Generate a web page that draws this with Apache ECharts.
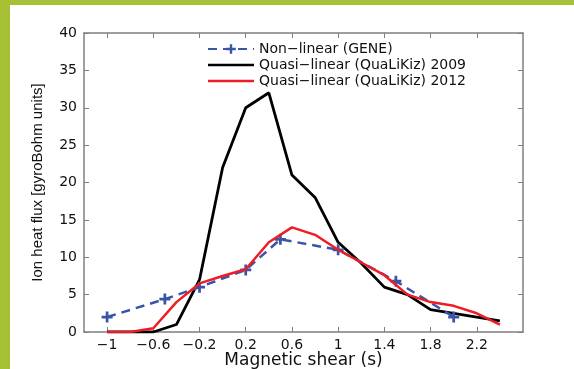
<!DOCTYPE html>
<html>
<head>
<meta charset="utf-8">
<script src="https://cdn.jsdelivr.net/npm/echarts@6/dist/echarts.min.js"></script>
<style>
html,body{margin:0;padding:0;background:#fff;}
#wrap{position:absolute;left:0;top:0;width:574px;height:369px;background:#fff;}
#barL{position:absolute;left:0;top:0;width:10px;height:369px;background:#a7c136;}
#barT{position:absolute;left:0;top:0;width:574px;height:5px;background:#a7c136;}
#chart{position:absolute;left:0;top:0;width:574px;height:369px;}
</style>
</head>
<body>
<div id="wrap"><div id="chart"></div><div id="barL"></div><div id="barT"></div></div>
<script>
// Data
const geneX = [-1, -0.5, -0.2, 0.2, 0.5, 1.0, 1.5, 2.0];
const geneY = [2, 4.4, 6, 8.3, 12.4, 11, 6.8, 2];
const qlkX = [-1, -0.8, -0.6, -0.4, -0.2, 0.0, 0.2, 0.4, 0.6, 0.8, 1.0, 1.2, 1.4, 1.6, 1.8, 2.0, 2.2, 2.4];
const qlk2009Y = [0, 0, 0, 1, 7, 22, 30, 32, 21, 18, 12, 9.2, 6, 5, 3, 2.5, 2, 1.5];
const qlk2012Y = [0, 0, 0.5, 4, 6.5, 7.5, 8.4, 12, 14, 13, 11, 9.3, 7.6, 5, 4, 3.5, 2.5, 1];
const xTicks = [-1, -0.6, -0.2, 0.2, 0.6, 1, 1.4, 1.8, 2.2];
const seriesNames = ['Non\u2212linear (GENE)', 'Quasi\u2212linear (QuaLiKiz) 2009', 'Quasi\u2212linear (QuaLiKiz) 2012'];

const pairs = (xs, ys) => xs.map((x, i) => [x, ys[i]]);
const fmt = v => (v < 0 ? '\u2212' + Math.abs(v) : String(v));
const wide = 'DejaVu Sans, Verdana, sans-serif';
const narrow = 'Liberation Sans, Arial, sans-serif';
const axisColor = '#7f7f7f';
const lineIcon = 'path://M0,0L60,0L60,3.5L0,3.5Z';

const chart = echarts.init(document.getElementById('chart'), null, {renderer: 'canvas'});
chart.setOption({
  animation: false,
  backgroundColor: '#fff',
  grid: {left: 84, right: 51, top: 33, bottom: 37, containLabel: false, outerBoundsMode: 'none'},
  legend: {
    orient: 'vertical', left: 202, top: 36, itemGap: 0,
    itemWidth: 46, itemHeight: 12, itemTextGap: 6,
    textStyle: {fontFamily: wide, fontSize: 14, color: '#111', lineHeight: 16},
    data: [
      {name: seriesNames[0]},
      {name: seriesNames[1], icon: lineIcon},
      {name: seriesNames[2], icon: lineIcon}
    ]
  },
  xAxis: [{
    type: 'value', min: -1.2, max: 2.6,
    name: 'Magnetic shear (s)', nameLocation: 'middle', nameGap: 20, nameMoveOverlap: false,
    nameTextStyle: {fontFamily: wide, fontSize: 17, color: '#111'},
    axisLine: {onZero: false, lineStyle: {color: axisColor, width: 1.5}},
    axisTick: {inside: true, length: 5, customValues: xTicks, lineStyle: {color: axisColor}},
    axisLabel: {customValues: xTicks, formatter: fmt, fontFamily: wide, fontSize: 14, color: '#111', margin: 6},
    splitLine: {show: false}
  }, {
    type: 'value', min: -1.2, max: 2.6, position: 'top',
    axisLine: {onZero: false, lineStyle: {color: axisColor, width: 1.5}},
    axisTick: {inside: true, length: 5, customValues: xTicks, lineStyle: {color: axisColor}},
    axisLabel: {show: false}, splitLine: {show: false}
  }],
  yAxis: [{
    type: 'value', min: 0, max: 40, interval: 5,
    name: 'Ion heat flux [gyroBohm units]', nameLocation: 'middle', nameGap: 39, nameRotate: 90,
    nameMoveOverlap: false,
    nameTextStyle: {fontFamily: narrow, fontSize: 15, color: '#111'},
    axisLine: {show: true, onZero: false, lineStyle: {color: axisColor, width: 1.5}},
    axisTick: {show: true, inside: true, length: 5, lineStyle: {color: axisColor}},
    axisLabel: {fontFamily: wide, fontSize: 14, color: '#111', margin: 7},
    splitLine: {show: false}
  }, {
    type: 'value', min: 0, max: 40, interval: 5, position: 'right',
    axisLine: {show: true, onZero: false, lineStyle: {color: axisColor, width: 1.5}},
    axisTick: {show: true, inside: true, length: 5, lineStyle: {color: axisColor}},
    axisLabel: {show: false}, splitLine: {show: false}
  }],
  series: [{
    name: seriesNames[0], type: 'line', data: pairs(geneX, geneY),
    symbol: 'path://M-1,-4L1,-4L1,-1L4,-1L4,1L1,1L1,4L-1,4L-1,1L-4,1L-4,-1L-1,-1Z',
    symbolSize: 11, showSymbol: true,
    lineStyle: {color: '#3a55a8', width: 2.5, type: [9, 6]},
    itemStyle: {color: '#3a55a8'}, z: 3
  }, {
    name: seriesNames[1], type: 'line', data: pairs(qlkX, qlk2009Y),
    symbol: 'none', lineStyle: {color: '#000', width: 2.8}, itemStyle: {color: '#000'}, z: 2
  }, {
    name: seriesNames[2], type: 'line', data: pairs(qlkX, qlk2012Y),
    symbol: 'none', lineStyle: {color: '#ee1c24', width: 2.5}, itemStyle: {color: '#ee1c24'}, z: 4
  }]
});
</script>
</body>
</html>
